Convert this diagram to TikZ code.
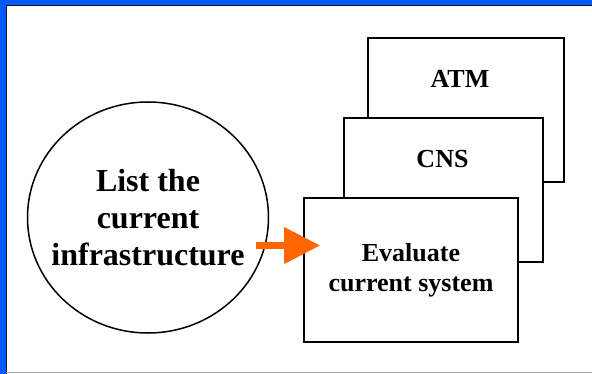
\documentclass[tikz,border=0pt]{standalone}
\usepackage{fontspec}
\setmainfont{Liberation Serif}
\usetikzlibrary{arrows.meta}
\definecolor{frameblue}{RGB}{0,88,255}
\definecolor{arroworange}{RGB}{255,102,0}
\definecolor{framedark}{RGB}{20,20,40}
\tikzset{
  box/.style={draw=black, fill=white, line width=1.6pt, rectangle, inner sep=0pt},
  bigtext/.style={font=\fontsize{32}{37}\selectfont\bfseries, align=center},
  boxtext/.style={font=\fontsize{26}{30}\selectfont\bfseries, align=center},
  orangearrow/.style={draw=arroworange, line width=7pt,
    -{Triangle[length=36pt,width=35pt]}}
}
\begin{document}
\begin{tikzpicture}[x=1pt,y=-1pt]
\useasboundingbox (0,0) rectangle (592,374);
% frame
\fill[frameblue] (0,0) rectangle (592,374);
\fill[white] (6,5) rectangle (592,374);
\draw[framedark, line width=1.2pt] (6.6,374) -- (6.6,5.6) -- (592,5.6);
\draw[gray!70, line width=1pt] (6,372.5) -- (592,372.5);
% boxes
\node[box, minimum width=196pt, minimum height=144pt] (atm) at (466,110) {};
\node[boxtext, anchor=base] (atmtext) at (460,88) {ATM};
\node[box, minimum width=199pt, minimum height=144pt] (cns) at (443.5,190) {};
\node[boxtext, anchor=base] (cnstext) at (442.5,168) {CNS};
\node[box, boxtext, minimum width=214pt, minimum height=144pt] (eval) at (411,270) {Evaluate\\current system};
% circle
\node[bigtext, inner sep=0pt] (circ) at (148,217.5) {List the\\current\\infrastructure};
\draw[black, line width=1.5pt] (circ.center) ellipse [x radius=120.5pt, y radius=115.5pt];
% arrow
\coordinate (astart) at ([xshift=-47pt]eval.west |- 0,245.5);
\coordinate (aend) at ([xshift=17pt]eval.west |- 0,245.5);
\draw[orangearrow] (astart) -- (aend);
\end{tikzpicture}
\end{document}
